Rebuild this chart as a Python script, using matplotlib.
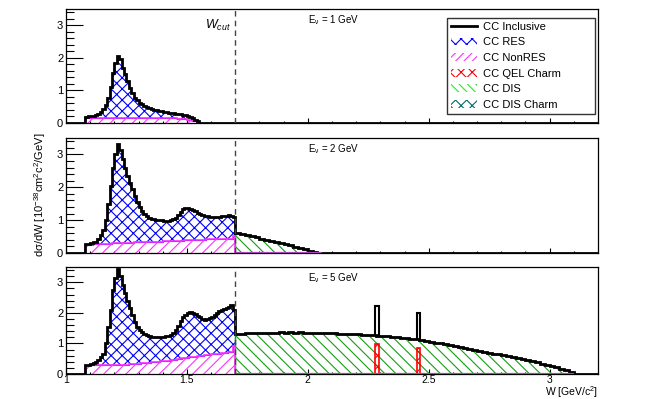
import numpy as np
import matplotlib
matplotlib.use("Agg")
import matplotlib.pyplot as plt
from matplotlib.lines import Line2D
from matplotlib.patches import Patch

plt.rcParams['font.family'] = ['Liberation Sans', 'DejaVu Sans']
plt.rcParams['mathtext.fontset'] = 'custom'
plt.rcParams['mathtext.rm'] = 'Liberation Sans'
plt.rcParams['mathtext.it'] = 'Liberation Sans:italic'
plt.rcParams['hatch.linewidth'] = 0.8

# W bins below W_cut start at 1.08 GeV, 0.01 wide; DIS bins start at 1.70, 0.02 wide
w_cut = 1.7
res_start = 1.08
res_width = 0.01
dis_width = 0.02
energies = [1, 2, 5]

# E = 1 GeV
inc_1 = [0.18, 0.20, 0.21, 0.22, 0.24, 0.27, 0.33, 0.42, 0.55, 0.78,
         1.10, 1.55, 1.85, 2.05, 1.95, 1.70, 1.50, 1.28, 1.08, 0.92,
         0.78, 0.70, 0.62, 0.57, 0.53, 0.49, 0.46, 0.44, 0.41, 0.39,
         0.37, 0.36, 0.34, 0.33, 0.32, 0.31, 0.30, 0.29, 0.28, 0.27,
         0.26, 0.25, 0.22, 0.19, 0.15, 0.10, 0.05, 0.01]
nonres_1 = [0.14, 0.15, 0.15, 0.15, 0.15, 0.15, 0.15, 0.15, 0.15, 0.15,
            0.15, 0.15, 0.15, 0.15, 0.15, 0.15, 0.15, 0.15, 0.15, 0.15,
            0.15, 0.15, 0.15, 0.15, 0.15, 0.15, 0.15, 0.15, 0.15, 0.15,
            0.15, 0.15, 0.15, 0.15, 0.15, 0.15, 0.14, 0.14, 0.13, 0.13,
            0.12, 0.11, 0.10, 0.09, 0.07, 0.05, 0.03, 0.01]
dis_1 = []

# E = 2 GeV
inc_2 = [0.26, 0.28, 0.30, 0.32, 0.35, 0.42, 0.55, 0.70, 1.00, 1.50,
         2.05, 2.60, 3.00, 3.33, 3.15, 2.85, 2.60, 2.35, 2.12, 1.95,
         1.75, 1.55, 1.40, 1.28, 1.18, 1.12, 1.08, 1.05, 1.03, 1.01,
         1.00, 0.99, 0.98, 0.97, 0.98, 1.00, 1.03, 1.08, 1.15, 1.25,
         1.33, 1.38, 1.37, 1.35, 1.32, 1.28, 1.23, 1.19, 1.16, 1.14,
         1.12, 1.11, 1.10, 1.10, 1.09, 1.10, 1.12, 1.13, 1.14, 1.16,
         1.12, 1.10]
nonres_2 = [0.24, 0.25, 0.25, 0.26, 0.26, 0.27, 0.27, 0.27, 0.28, 0.28,
            0.28, 0.29, 0.29, 0.29, 0.30, 0.30, 0.30, 0.31, 0.31, 0.31,
            0.32, 0.32, 0.32, 0.33, 0.33, 0.33, 0.34, 0.34, 0.34, 0.35,
            0.35, 0.35, 0.36, 0.36, 0.36, 0.37, 0.37, 0.37, 0.38, 0.38,
            0.38, 0.39, 0.39, 0.39, 0.40, 0.40, 0.40, 0.41, 0.41, 0.41,
            0.42, 0.42, 0.42, 0.42, 0.43, 0.43, 0.43, 0.43, 0.44, 0.44,
            0.44, 0.52]
dis_2 = [0.62, 0.58, 0.55, 0.51, 0.48, 0.44, 0.41, 0.37, 0.34, 0.30,
         0.27, 0.23, 0.19, 0.15, 0.11, 0.07, 0.04, 0.01]

# E = 5 GeV
inc_5 = [0.28, 0.31, 0.33, 0.36, 0.40, 0.46, 0.55, 0.65, 1.00, 1.55,
         2.10, 2.75, 3.15, 3.42, 3.20, 2.90, 2.65, 2.40, 2.15, 1.92,
         1.70, 1.55, 1.45, 1.38, 1.32, 1.27, 1.23, 1.21, 1.20, 1.21,
         1.20, 1.21, 1.22, 1.23, 1.25, 1.28, 1.35, 1.45, 1.58, 1.72,
         1.85, 1.93, 1.98, 2.02, 2.00, 1.95, 1.90, 1.85, 1.80, 1.78,
         1.80, 1.84, 1.88, 1.93, 1.98, 2.05, 2.10, 2.12, 2.15, 2.20,
         2.27, 2.10]
nonres_5 = [0.26, 0.27, 0.28, 0.28, 0.29, 0.29, 0.29, 0.29, 0.29, 0.29,
            0.29, 0.29, 0.30, 0.30, 0.30, 0.31, 0.31, 0.31, 0.32, 0.32,
            0.33, 0.33, 0.34, 0.35, 0.35, 0.36, 0.37, 0.38, 0.38, 0.39,
            0.40, 0.41, 0.42, 0.43, 0.44, 0.45, 0.46, 0.47, 0.48, 0.50,
            0.51, 0.52, 0.53, 0.54, 0.55, 0.57, 0.58, 0.59, 0.60, 0.61,
            0.62, 0.63, 0.64, 0.65, 0.66, 0.67, 0.68, 0.69, 0.70, 0.71,
            0.73, 0.90]
dis_5 = [1.30, 1.32, 1.33, 1.33, 1.34, 1.34, 1.35, 1.34, 1.35, 1.36,
         1.35, 1.36, 1.35, 1.36, 1.35, 1.35, 1.35, 1.34, 1.34, 1.33,
         1.33, 1.32, 1.32, 1.31, 1.30, 1.30, 1.28, 1.28, 1.27, 1.25,
         1.24, 1.23, 1.21, 1.20, 1.19, 1.17, 1.15, 1.13, 1.11, 1.08,
         1.05, 1.03, 1.01, 0.98, 0.95, 0.92, 0.89, 0.86, 0.83, 0.80,
         0.76, 0.73, 0.70, 0.67, 0.64, 0.61, 0.58, 0.55, 0.52, 0.48,
         0.45, 0.42, 0.38, 0.34, 0.30, 0.26, 0.22, 0.17, 0.12, 0.06]

# QEL charm peaks (Lambda_c, Sigma_c) at 5 GeV
charm_w = [2.287, 2.457]
charm_h = [0.97, 0.85]
charm_width = 0.015

inc_all = [inc_1, inc_2, inc_5]
nonres_all = [nonres_1, nonres_2, nonres_5]
dis_all = [dis_1, dis_2, dis_5]

c_res = '#0000ff'
c_nonres = '#ff33ff'
c_qel = '#ff0000'
c_dis = '#11a011'
c_dischm = '#006a6a'

fig = plt.figure(figsize=(6.64, 3.99), dpi=100)
left, width = 66 / 664, 532 / 664
boxes = [(9, 123), (138, 253), (267, 374)]
axes = []
for top, bot in boxes:
    ax = fig.add_axes([left, 1 - bot / 399, width, (bot - top) / 399])
    axes.append(ax)

for i, ax in enumerate(axes):
    inc = inc_all[i]
    nonres = nonres_all[i]
    dis = dis_all[i]
    res_edges = res_start + res_width * np.arange(len(inc) + 1)

    ax.stairs(inc, res_edges, baseline=nonres, fill=True, facecolor='none',
              edgecolor=c_res, hatch='xxx', lw=0.8, zorder=2)
    ax.stairs(nonres, res_edges, baseline=0, fill=True, facecolor='none',
              edgecolor=c_nonres, hatch='///', lw=1.2, zorder=2.5)

    edges = [1.0] + list(res_edges)
    vals = [0] + list(inc)
    if dis:
        dis_edges = w_cut + dis_width * np.arange(len(dis) + 1)
        ax.stairs(dis, dis_edges, baseline=0, fill=True, facecolor='none',
                  edgecolor=c_dis, hatch='\\\\\\', lw=1, zorder=2)
        edges += list(dis_edges[1:])
        vals += list(dis)
    edges.append(3.2)
    vals.append(0)
    ax.stairs(vals, edges, baseline=None, color='black', lw=2, zorder=3)
    if dis:
        ax.plot([w_cut, dis_edges[-1]], [0, 0], color='#b040c0', lw=1.6,
                zorder=4, solid_capstyle='butt')

    if i == 2:
        for w, h in zip(charm_w, charm_h):
            k = int((w - w_cut) / dis_width)
            base = dis[k]
            ax.stairs([base + h], [w - charm_width / 2, w + charm_width / 2],
                      baseline=base, color='black', lw=1.5, zorder=3)
        ax.bar(charm_w, charm_h, width=charm_width, fill=False,
               edgecolor=c_qel, hatch='xxx', lw=1.2, zorder=3)

    ax.axvline(w_cut, color='#444444', lw=1, ls=(0, (4, 3)), zorder=5)
    ax.text(2.0, 0.9, '$\\mathregular{E_{\\nu}}$ = %d GeV' % energies[i],
            transform=ax.get_xaxis_transform(), fontsize=7, ha='left',
            va='center')

    ax.set_xlim(1.0, 3.2)
    ax.set_ylim(0, 3.5)
    ax.set_yticks([0, 1, 2, 3])
    ax.set_yticks(np.arange(0, 3.5, 0.2), minor=True)
    ax.set_xticks([1, 1.5, 2, 2.5, 3])
    ax.set_xticks(np.arange(1.0, 3.21, 0.1), minor=True)
    ax.tick_params(axis='y', which='major', direction='in', length=12,
                   width=0.8, labelsize=8, pad=2)
    ax.tick_params(axis='y', which='minor', direction='in', length=6,
                   width=0.8)
    ax.tick_params(axis='x', which='major', direction='in', length=3.5,
                   width=0.8, labelsize=7.5, pad=1)
    ax.tick_params(axis='x', which='minor', direction='in', length=1.8,
                   width=0.8)
    ax.set_yticklabels(['0', '1', '2', '3'])
    if i < 2:
        ax.tick_params(axis='x', labelbottom=False)
    else:
        ax.set_xticklabels(['1', '1.5', '2', '2.5', '3'])
    for s in ax.spines.values():
        s.set_linewidth(0.9)

axes[0].text(1.683, 0.86, '$W_{cut}$', transform=axes[0].get_xaxis_transform(),
             fontsize=9, ha='right', va='center', fontstyle='italic')

handles = [
    Line2D([], [], color='black', lw=2),
    Patch(facecolor='none', edgecolor=c_res, hatch='xxx', lw=0),
    Patch(facecolor='none', edgecolor=c_nonres, hatch='////', lw=0),
    Patch(facecolor='none', edgecolor=c_qel, hatch='xxx', lw=0),
    Patch(facecolor='none', edgecolor='#22ee22', hatch='\\\\\\\\', lw=0),
    Patch(facecolor='none', edgecolor=c_dischm, hatch='xxx', lw=0),
]
labels = ['CC Inclusive', 'CC RES', 'CC NonRES', 'CC QEL Charm', 'CC DIS',
          'CC DIS Charm']
leg = axes[0].legend(handles, labels, loc='upper left',
                     bbox_to_anchor=(0.716, 0.0, 0.278, 0.921), mode='expand',
                     fontsize=8, frameon=True, fancybox=False,
                     borderaxespad=0, labelspacing=0.5, handlelength=2.4,
                     handletextpad=0.5, borderpad=0.35)
leg.get_frame().set_edgecolor('black')
leg.get_frame().set_linewidth(1)

fig.text(40 / 664, 1 - 195 / 399,
         'd\u03c3/dW [10$^{-38}$cm$^{2}$c$^{2}$/GeV]', rotation=90,
         fontsize=8, ha='center', va='center')
fig.text(598 / 664, 1 - 396.5 / 399, 'W [GeV/c$^{2}$]', fontsize=7.5,
         ha='right', va='baseline')

fig.savefig('out.png', dpi=100)
